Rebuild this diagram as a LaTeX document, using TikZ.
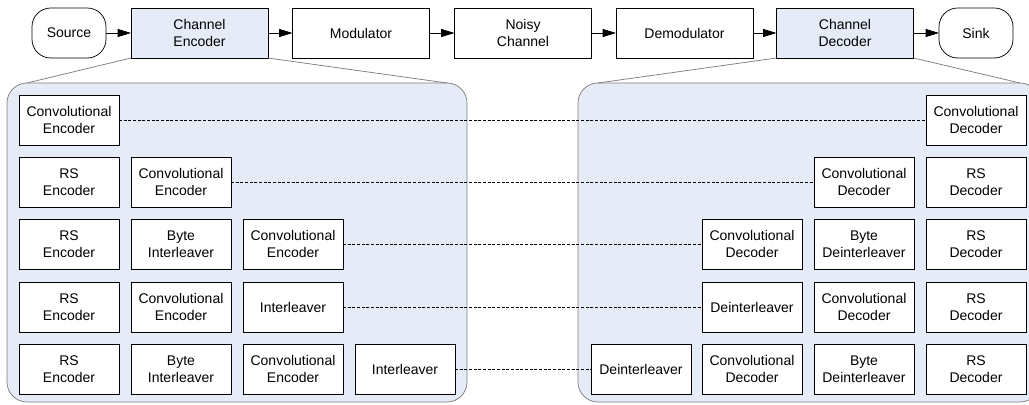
\documentclass[tikz,border=0pt]{standalone}
\usepackage{fontspec}
\setmainfont{Liberation Sans}
\usetikzlibrary{arrows.meta,positioning}
\definecolor{panelblue}{RGB}{229,235,247}
\definecolor{panelgray}{RGB}{125,125,125}

\begin{document}
\begin{tikzpicture}[x=0.75pt,y=-0.75pt,line width=0.55pt,
  blk/.style={draw,fill=white,minimum width=75pt,minimum height=37.5pt,
    align=center,inner sep=0pt,outer sep=0pt,
    font=\fontsize{10.5}{12.75}\selectfont},
  topblk/.style={blk,minimum width=102.75pt},
  term/.style={blk,minimum width=55.5pt,rounded corners=14pt},
  link/.style={-{Triangle[length=10pt,width=6pt]}},
  dashline/.style={dash pattern=on 2.2pt off 1.3pt,line width=0.4pt},
  panel/.style={draw=panelgray,fill=panelblue,rounded corners=15pt}]
\useasboundingbox (0,0) rectangle (1029,404);
% panels
\draw[panel] (7,83) rectangle (467,402);
\draw[panel] (578,83) rectangle (1040,402);
% top row
\node[term] (src) at (69,33) {Source};
\node[topblk,fill=panelblue] (cenc) at (199.5,33) {Channel\\Encoder};
\node[topblk] (mod) at (361,33) {Modulator};
\node[topblk] (chan) at (523,33) {Noisy\\Channel};
\node[topblk] (demod) at (684.5,33) {Demodulator};
\node[topblk,fill=panelblue] (cdec) at (845,33) {Channel\\Decoder};
\node[term] (sink) at (976,33) {Sink};
\draw[link] (src) -- (cenc);
\draw[link] (cenc) -- (mod);
\draw[link] (mod) -- (chan);
\draw[link] (chan) -- (demod);
\draw[link] (demod) -- (cdec);
\draw[link] (cdec) -- (sink);
% zoom lines
\coordinate (LA) at (27,83);
\coordinate (LB) at (447,83);
\coordinate (RA) at (598,83);
\coordinate (RB) at (1020,83);
\draw[panelgray] (cenc.south west) -- (LA);
\draw[panelgray] (cenc.south east) -- (LB);
\draw[panelgray] (cdec.south west) -- (RA);
\draw[panelgray] (cdec.south east) -- (RB);
% encoder chains
\node[blk] (e11) at (69,120) {Convolutional\\Encoder};
\node[blk] (e21) at (69,182) {RS\\Encoder};
\node[blk] (e22) at (181,182) {Convolutional\\Encoder};
\node[blk] (e31) at (69,244) {RS\\Encoder};
\node[blk] (e32) at (181,244) {Byte\\Interleaver};
\node[blk] (e33) at (293,244) {Convolutional\\Encoder};
\node[blk] (e41) at (69,307) {RS\\Encoder};
\node[blk] (e42) at (181,307) {Convolutional\\Encoder};
\node[blk] (e43) at (293,307) {Interleaver};
\node[blk] (e51) at (69,369) {RS\\Encoder};
\node[blk] (e52) at (181,369) {Byte\\Interleaver};
\node[blk] (e53) at (293,369) {Convolutional\\Encoder};
\node[blk] (e54) at (405,369) {Interleaver};
% decoder chains
\node[blk] (d14) at (976,120) {Convolutional\\Decoder};
\node[blk] (d23) at (864,182) {Convolutional\\Decoder};
\node[blk] (d24) at (976,182) {RS\\Decoder};
\node[blk] (d32) at (752,244) {Convolutional\\Decoder};
\node[blk] (d33) at (864,244) {Byte\\Deinterleaver};
\node[blk] (d34) at (976,244) {RS\\Decoder};
\node[blk] (d42) at (752,307) {Deinterleaver};
\node[blk] (d43) at (864,307) {Convolutional\\Decoder};
\node[blk] (d44) at (976,307) {RS\\Decoder};
\node[blk] (d51) at (641,369) {Deinterleaver};
\node[blk] (d52) at (752,369) {Convolutional\\Decoder};
\node[blk] (d53) at (864,369) {Byte\\Deinterleaver};
\node[blk] (d54) at (976,369) {RS\\Decoder};
% matching pairs
\draw[dashline] (e11) -- (d14);
\draw[dashline] (e22) -- (d23);
\draw[dashline] (e33) -- (d32);
\draw[dashline] (e43) -- (d42);
\draw[dashline] (e54) -- (d51);
\end{tikzpicture}
\end{document}
